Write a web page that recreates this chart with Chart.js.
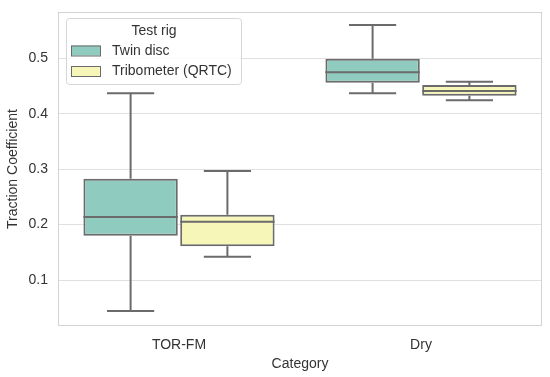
<!DOCTYPE html>
<html>
<head>
<meta charset="utf-8">
<script src="https://cdn.jsdelivr.net/npm/chart.js@4"></script>
<style>
  html, body { margin: 0; padding: 0; background: #fff; }
  #wrap { width: 550px; height: 377px; }
</style>
</head>
<body>
<div id="wrap"><canvas id="chart" width="550" height="377"></canvas></div>
<script>
// categories and hue groups
var categories = ['TOR-FM', 'Dry'];
var rigs = ['Twin disc', 'Tribometer (QRTC)'];

// box stats per category
var twinMin = [0.044, 0.437];
var twinQ1 = [0.180, 0.456];
var twinMed = [0.2135, 0.4747];
var twinQ3 = [0.2827, 0.4993];
var twinMax = [0.437, 0.560];

var tribMin = [0.142, 0.4242];
var tribQ1 = [0.161, 0.4325];
var tribMed = [0.205, 0.441];
var tribQ3 = [0.2177, 0.4518];
var tribMax = [0.2966, 0.4578];

var yTicks = [0.1, 0.2, 0.3, 0.4, 0.5];

var lineColor = '#6b6b6b';
var textColor = '#333333';
var fills = ['#90cbbf', '#f7f6b9'];
var fontFamily = '"Liberation Sans", Arial, sans-serif';

function boxes(q1, q3) {
  return categories.map(function(c, i) { return [q1[i], q3[i]]; });
}

var stats = [
  { min: twinMin, med: twinMed, max: twinMax, q1: twinQ1, q3: twinQ3 },
  { min: tribMin, med: tribMed, max: tribMax, q1: tribQ1, q3: tribQ3 }
];

var boxPlugin = {
  id: 'boxExtras',
  beforeDatasetsDraw: function(chart) {
    var ctx = chart.ctx, a = chart.chartArea;
    ctx.save();
    ctx.strokeStyle = '#d3d3d3';
    ctx.lineWidth = 1;
    ctx.strokeRect(a.left + 0.5, a.top + 0.5, a.right - a.left - 1, a.bottom - a.top - 1);
    ctx.restore();
  },
  afterDatasetsDraw: function(chart) {
    var ctx = chart.ctx;
    var y = chart.scales.y;
    ctx.save();
    ctx.strokeStyle = lineColor;
    ctx.lineWidth = 2;
    chart.data.datasets.forEach(function(ds, di) {
      var meta = chart.getDatasetMeta(di);
      var s = stats[di];
      meta.data.forEach(function(bar, i) {
        var x = bar.x, w = bar.width;
        var yMin = y.getPixelForValue(s.min[i]);
        var yMax = y.getPixelForValue(s.max[i]);
        var yQ1 = y.getPixelForValue(s.q1[i]);
        var yQ3 = y.getPixelForValue(s.q3[i]);
        var yMed = y.getPixelForValue(s.med[i]);
        ctx.beginPath();
        ctx.moveTo(x, yQ3); ctx.lineTo(x, yMax);
        ctx.moveTo(x - w / 4, yMax); ctx.lineTo(x + w / 4, yMax);
        ctx.moveTo(x, yQ1); ctx.lineTo(x, yMin);
        ctx.moveTo(x - w / 4, yMin); ctx.lineTo(x + w / 4, yMin);
        ctx.moveTo(x - w / 2, yMed); ctx.lineTo(x + w / 2, yMed);
        ctx.stroke();
      });
    });
    ctx.restore();
  },
  afterDraw: function(chart) {
    // legend box drawn inside the plot, top left
    var ctx = chart.ctx;
    ctx.save();
    ctx.beginPath();
    ctx.roundRect(66.5, 18.5, 175, 66, 3);
    ctx.fillStyle = 'rgba(255,255,255,0.85)';
    ctx.fill();
    ctx.strokeStyle = '#d6d6d6';
    ctx.lineWidth = 1;
    ctx.stroke();
    ctx.fillStyle = textColor;
    ctx.font = '14px ' + fontFamily;
    ctx.textAlign = 'center';
    ctx.textBaseline = 'middle';
    ctx.fillText('Test rig', 154, 31);
    ctx.textAlign = 'left';
    chart.data.datasets.forEach(function(ds, di) {
      var cy = 50.5 + di * 20.5;
      ctx.fillStyle = fills[di];
      ctx.fillRect(71, cy - 5, 29, 10);
      ctx.strokeStyle = lineColor;
      ctx.lineWidth = 1;
      ctx.strokeRect(71.5, cy - 4.5, 29, 10);
      ctx.fillStyle = textColor;
      ctx.fillText(ds.label, 112, cy + 0.5);
    });
    ctx.restore();
  }
};

new Chart(document.getElementById('chart'), {
  type: 'bar',
  data: {
    labels: categories,
    datasets: [
      { label: rigs[0], data: boxes(twinQ1, twinQ3), backgroundColor: fills[0],
        borderColor: lineColor, borderWidth: 2, borderSkipped: false },
      { label: rigs[1], data: boxes(tribQ1, tribQ3), backgroundColor: fills[1],
        borderColor: lineColor, borderWidth: 2, borderSkipped: false }
    ]
  },
  options: {
    responsive: false,
    animation: false,
    layout: { autoPadding: false, padding: { top: 12, right: 8, left: 0, bottom: 0 } },
    categoryPercentage: 0.8,
    barPercentage: 0.975,
    plugins: { legend: { display: false }, tooltip: { enabled: false } },
    scales: {
      x: {
        grid: { display: false, drawTicks: false },
        border: { display: false },
        ticks: { color: textColor, padding: 11, font: { family: fontFamily, size: 14 } },
        title: { display: true, text: 'Category', color: textColor, padding: { top: 0, bottom: 4 },
                 font: { family: fontFamily, size: 14 } },
        afterFit: function(scale) {
          scale.height = 51;
          scale.paddingLeft = 0; scale.paddingRight = 0;
        }
      },
      y: {
        min: 0.017,
        max: 0.5836,
        grid: { color: '#e0e0e0', drawTicks: false },
        border: { display: false },
        afterBuildTicks: function(scale) {
          scale.ticks = yTicks.map(function(v) { return { value: v }; });
        },
        ticks: { color: textColor, padding: 10, font: { family: fontFamily, size: 14 },
                 callback: function(v) { return v.toFixed(1); } },
        title: { display: true, text: 'Traction Coefficient', color: textColor, padding: { top: 5, bottom: 0 },
                 font: { family: fontFamily, size: 14 } },
        afterFit: function(scale) {
          scale.width = 58;
          scale.paddingTop = 0; scale.paddingBottom = 0;
        }
      }
    }
  },
  plugins: [boxPlugin]
});
</script>
</body>
</html>
